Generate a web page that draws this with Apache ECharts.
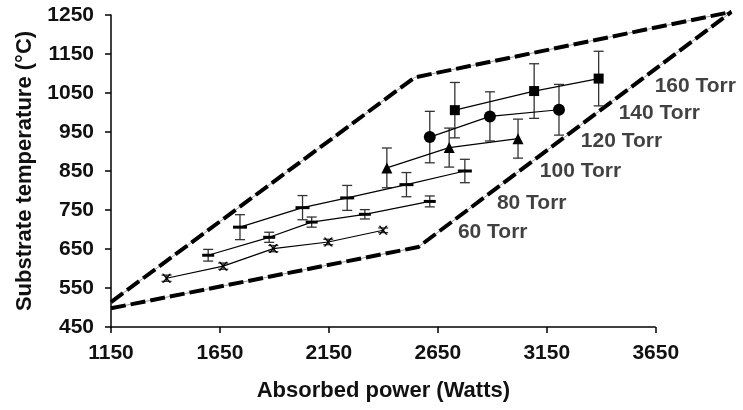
<!DOCTYPE html>
<html style="height: 100%;">
  <head>
    <meta charset="utf-8" />
  </head>
  <body style="height: 100%; margin: 0; background: #fff;">
    <div id="container" style="width: 743px; height: 410px;"></div>
    <script src="https://cdn.jsdelivr.net/npm/echarts@6/dist/echarts.min.js"></script>
    <script type="text/javascript">
      // axis ticks
      var xTicks = [1150, 1650, 2150, 2650, 3150, 3650];
      var yTicks = [450, 550, 650, 750, 850, 950, 1050, 1150, 1250];

      // absorbed power (W), substrate temperature (C), error (+/- C)
      var power60 = [1405, 1665, 1895, 2147, 2399];
      var temp60 = [575, 606, 651, 668, 698];
      var err60 = [8, 8, 8, 7, 6];

      var power80 = [1596, 1876, 2071, 2315, 2613];
      var temp80 = [634, 680, 719, 739, 772];
      var err80 = [15, 13, 13, 12, 14];

      var power100 = [1742, 2029, 2234, 2506, 2774];
      var temp100 = [706, 756, 781, 815, 850];
      var err100 = [32, 31, 32, 31, 30];

      var power120 = [2416, 2702, 3018];
      var temp120 = [858, 910, 933];
      var err120 = [51, 50, 50];

      var power140 = [2613, 2889, 3206];
      var temp140 = [937, 990, 1007];
      var err140 = [66, 63, 65];

      var power160 = [2728, 3092, 3388];
      var temp160 = [1006, 1055, 1087];
      var err160 = [71, 70, 70];

      // dashed operating envelope
      var envelopeUpper = [[1150, 514], [2544, 1090], [3997, 1258]];
      var envelopeLower = [[1150, 498], [2560, 655], [3997, 1258]];

      // pressure labels and where they sit (left edge, middle)
      var torrNames = ["160 Torr", "140 Torr", "120 Torr", "100 Torr", "80 Torr", "60 Torr"];
      var torrLabelAt = [[3645, 1067], [3480, 998], [3306, 926], [3118, 849], [2921, 767], [2742, 693]];

      var xMax = 4000; // axis runs on past 3650 so the envelope tip fits

      var dom = document.getElementById("container");
      var myChart = echarts.init(dom);

      function pairs(xs, ys) {
        return xs.map(function (x, i) { return [x, ys[i]]; });
      }
      function triples(xs, ys, es) {
        return xs.map(function (x, i) { return [x, ys[i], es[i]]; });
      }

      var groups = [
        { name: "60 Torr", p: power60, t: temp60, e: err60, symbol: "path://M0,0L2,0L5,4L8,0L10,0L6,5L10,10L8,10L5,6L2,10L0,10L4,5Z", size: 9 },
        { name: "80 Torr", p: power80, t: temp80, e: err80, symbol: "rect", size: [12, 3] },
        { name: "100 Torr", p: power100, t: temp100, e: err100, symbol: "rect", size: [14, 3] },
        { name: "120 Torr", p: power120, t: temp120, e: err120, symbol: "triangle", size: 11 },
        { name: "140 Torr", p: power140, t: temp140, e: err140, symbol: "circle", size: 12 },
        { name: "160 Torr", p: power160, t: temp160, e: err160, symbol: "rect", size: 10 },
      ];

      var series = [];

      // x axis line only over the labelled range
      series.push({
        type: "line",
        data: [[xTicks[0], yTicks[0]], [xTicks[xTicks.length - 1], yTicks[0]]],
        symbol: "none", silent: true, clip: false,
        lineStyle: { color: "#000", width: 1.5 }, z: 6,
      });

      [envelopeUpper, envelopeLower].forEach(function (env) {
        series.push({
          type: "line", data: env, clip: false, symbol: "none", silent: true,
          lineStyle: { color: "#9a9a9a", width: 1 }, z: 1,
        });
        series.push({
          type: "line", data: env, clip: false, symbol: "none", silent: true,
          lineStyle: { color: "#000", width: 4, type: [15, 5] }, z: 2,
        });
      });

      groups.forEach(function (g) {
        series.push({
          type: "custom",
          name: g.name + " err",
          data: triples(g.p, g.t, g.e),
          z: 3,
          renderItem: function (params, api) {
            var x = api.value(0), y = api.value(1), e = api.value(2);
            var top = api.coord([x, y + e]);
            var bot = api.coord([x, y - e]);
            var w = 5;
            var st = { stroke: "#333", lineWidth: 1.3 };
            return {
              type: "group",
              children: [
                { type: "line", shape: { x1: top[0], y1: top[1], x2: bot[0], y2: bot[1] }, style: st },
                { type: "line", shape: { x1: top[0] - w, y1: top[1], x2: top[0] + w, y2: top[1] }, style: st },
                { type: "line", shape: { x1: bot[0] - w, y1: bot[1], x2: bot[0] + w, y2: bot[1] }, style: st },
              ],
            };
          },
        });
        series.push({
          type: "line",
          name: g.name,
          data: pairs(g.p, g.t),
          symbol: g.symbol,
          symbolSize: g.size,
          lineStyle: { color: "#000", width: 1.2 },
          itemStyle: { color: "#000" },
          z: 4,
        });
      });

      series.push({
        type: "scatter",
        data: torrLabelAt.map(function (d, i) { return { value: d, name: torrNames[i] }; }),
        symbolSize: 0,
        clip: false,
        silent: true,
        label: {
          show: true, position: "right", distance: 0,
          formatter: "{b}", color: "#111",
          fontFamily: "Liberation Sans", fontWeight: "bold", fontSize: 21,
        },
        z: 5,
      });

      var axisFont = { fontFamily: "Liberation Sans", fontWeight: "bold", fontSize: 21, color: "#111" };
      var nameFont = { fontFamily: "Liberation Sans", fontWeight: "bold", fontSize: 22, color: "#111" };
      var plain = function (v) { return String(v); };

      var option = {
        animation: false,
        grid: { left: 111, right: 11, top: 15, bottom: 83 },
        xAxis: {
          type: "value", min: xTicks[0], max: xMax,
          name: "Absorbed power (Watts)", nameLocation: "middle", nameGap: 53,
          nameTextStyle: nameFont,
          axisLine: { show: false },
          axisTick: { show: true, length: 6, customValues: xTicks, lineStyle: { color: "#000", width: 1.5 } },
          axisLabel: Object.assign({ customValues: xTicks, margin: 16, formatter: plain }, axisFont),
          splitLine: { show: false },
        },
        yAxis: {
          type: "value", min: yTicks[0], max: yTicks[yTicks.length - 1],
          name: "Substrate temperature (\u00b0C)", nameLocation: "middle", nameGap: 68,
          nameTextStyle: nameFont,
          axisLine: { show: true, lineStyle: { color: "#000", width: 1.5 } },
          axisTick: { show: true, length: 6, customValues: yTicks, lineStyle: { color: "#000", width: 1.5 } },
          axisLabel: Object.assign({ customValues: yTicks, margin: 17, formatter: plain }, axisFont),
          splitLine: { show: false },
        },
        series: series,
      };

      myChart.setOption(option);

      // centre the x title under 1150..3650 rather than the widened axis
      var left = myChart.convertToPixel({ xAxisIndex: 0 }, xTicks[0]);
      var right = myChart.convertToPixel({ xAxisIndex: 0 }, xTicks[xTicks.length - 1]);
      var mid = myChart.convertToPixel({ xAxisIndex: 0 }, (xTicks[0] + xMax) / 2);
      var shift = mid - (left + right) / 2;
      myChart.setOption({ xAxis: { nameTextStyle: { padding: [0, 2 * shift, 0, 0] } } });
    </script>
  </body>
</html>
